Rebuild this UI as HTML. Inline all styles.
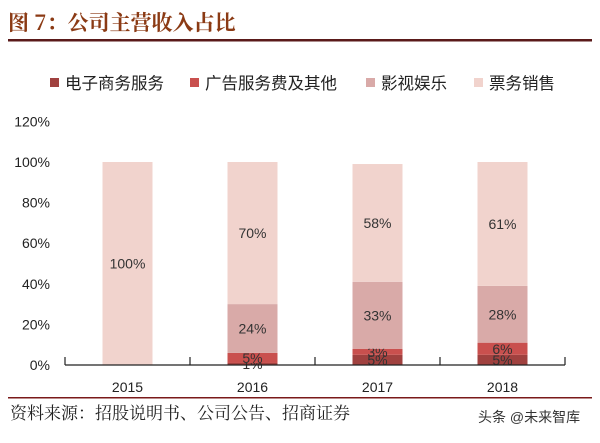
<!DOCTYPE html>
<html><head><meta charset="utf-8"><style>
body{margin:0;width:600px;height:438px;background:#fff;overflow:hidden;font-family:"Liberation Sans","Noto Sans CJK SC",sans-serif;}
</style></head><body>
<svg id="c" width="600" height="438">
<text x="8" y="30" font-size="21" font-weight="bold" fill="#8b3a14" font-family="'Noto Serif CJK SC',serif">图 7：公司主营收入占比</text>
<rect x="8" y="39" width="584" height="2.5" fill="#5a1a1a"/>
<g id="legend"></g>
<g id="plot"></g>
<rect x="8" y="397" width="584" height="1.5" fill="#7a1a1a"/>
<text x="10" y="419" font-size="17" fill="#222" font-family="'Noto Serif CJK SC',serif">资料来源：招股说明书、公司公告、招商证券</text>
<text x="478" y="422" font-size="14" fill="#333">头条 @未来智库</text>
</svg>
<script>
const categories=["2015","2016","2017","2018"];
const seriesNames=["电子商务服务","广告服务费及其他","影视娱乐","票务销售"];
const ecommerce=[0,1,5,5];
const ads=[0,5,3,6];
const film=[0,24,33,28];
const ticket=[100,70,58,61];
const yTicks=[0,20,40,60,80,100,120];
const colors=["#a0413f","#c9504e","#d9aaa8","#f1d3cd"];
const series=[ecommerce,ads,film,ticket];
const NS="http://www.w3.org/2000/svg";
const plot=document.getElementById('plot');
const x0=65,x1=565,y0=365,yTop=162;
const y=v=>y0-(v/100)*(y0-yTop);
const band=(x1-x0)/categories.length;
const xc=i=>x0+band*(i+0.5);
function mk(tag,attrs,parent){const e=document.createElementNS(NS,tag);for(const k in attrs)e.setAttribute(k,attrs[k]);parent.appendChild(e);return e;}
yTicks.forEach(t=>{
 const tx=mk('text',{x:50,y:y(t)+5,'font-size':14,fill:'#222','text-anchor':'end'},plot);
 
 
 tx.textContent=t+'%';
});
categories.forEach((c,i)=>{
 let acc=0;
 series.forEach((s,j)=>{
  const v=s[i]; if(v<=0){return;}
  const r=mk('rect',{x:xc(i)-25,y:y(acc+v),width:50,height:y(acc)-y(acc+v),fill:colors[j]},plot);
  
  
  const lt=mk('text',{x:xc(i),y:(y(acc)+y(acc+v))/2+5,'font-size':14,fill:'#333','text-anchor':'middle'},plot);
  
  
  lt.textContent=v+'%';
  acc+=v;
 });
 const xl=mk('text',{x:xc(i),y:392,'font-size':14,fill:'#222','text-anchor':'middle'},plot);
 
 
 xl.textContent=c;
});
const ax=mk('line',{x1:x0,y1:y0,x2:x1,y2:y0,stroke:'#222','stroke-width':1.2},plot);


for(let i=0;i<=categories.length;i++){
 const tk=mk('line',{x1:x0+band*i,y1:y0,x2:x0+band*i,y2:y0-8,stroke:'#222','stroke-width':1.2},plot);
 
 
}
const lg=document.getElementById('legend');
const lx=[50,190,366,474];
seriesNames.forEach((n,j)=>{
 const r=mk('rect',{x:lx[j],y:78,width:9,height:9,fill:colors[j]},lg);
 
 
 const t=mk('text',{x:lx[j]+15,y:89,'font-size':16.5,fill:'#222'},lg);
 
 
 t.textContent=n;
});
</script>
</body></html>
